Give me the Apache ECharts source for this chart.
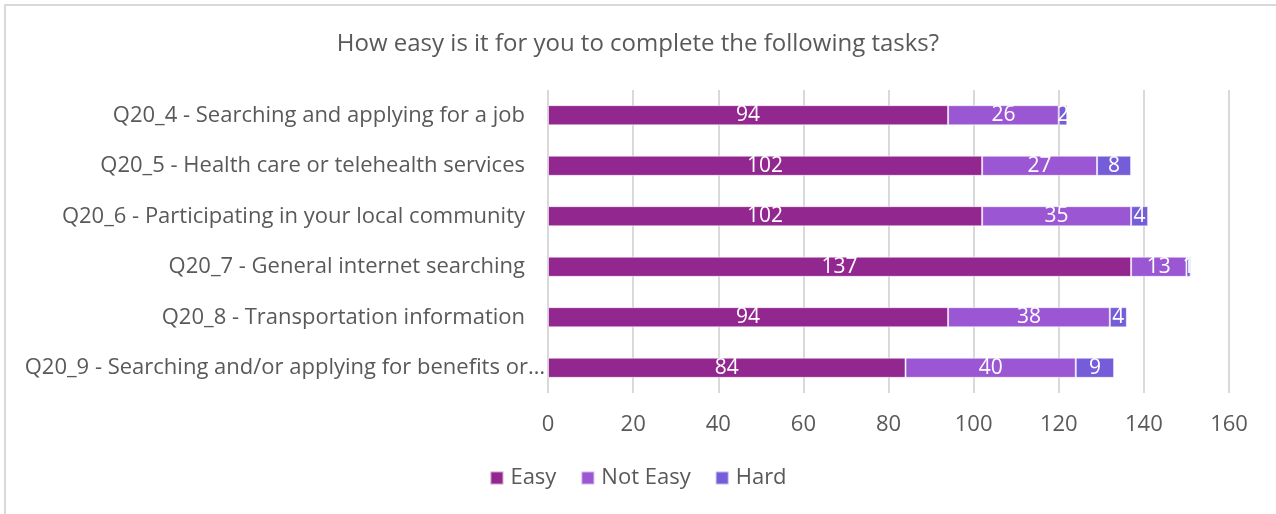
<!DOCTYPE html>
<html>
<head>
<meta charset="utf-8">
<script src="https://cdn.jsdelivr.net/npm/echarts@6/dist/echarts.min.js"></script>
<style>
  html, body { margin: 0; padding: 0; background: #fff; }
  #frame {
    position: absolute; left: 4px; top: 4px; width: 1290px; height: 530px;
    border-left: 2px solid #d9d9d9; border-top: 2px solid #d9d9d9;
  }
  #chart { position: absolute; left: 0; top: 0; width: 1276px; height: 514px; }
</style>
</head>
<body>
<div id="frame"></div>
<div id="chart"></div>
<script>
// Survey question rows (top to bottom)
const categories = [
  'Q20_4 - Searching and applying for a job',
  'Q20_5 - Health care or telehealth services',
  'Q20_6 - Participating in your local community',
  'Q20_7 - General internet searching',
  'Q20_8 - Transportation information',
  'Q20_9 - Searching and/or applying for benefits or\u2026'
];
const easy    = [94, 102, 102, 137, 94, 84];
const notEasy = [26, 27, 35, 13, 38, 40];
const hard    = [2, 8, 4, 1, 4, 9];
const xTicks  = [0, 20, 40, 60, 80, 100, 120, 140, 160];

const FONT = '"Open Sans", Roboto, sans-serif';
const TEXT = '#595959';

const chart = echarts.init(document.getElementById('chart'), null, { renderer: 'canvas' });

function seriesOf(name, data, color) {
  return {
    name: name,
    type: 'bar',
    stack: 'total',
    data: data,
    barCategoryGap: '60%',
    itemStyle: { color: color, borderColor: 'rgba(255,255,255,0.55)', borderWidth: 1 },
    label: {
      show: true,
      position: 'inside',
      color: '#fff',
      fontFamily: FONT,
      fontSize: 21
    },
    emphasis: { disabled: true }
  };
}

chart.setOption({
  animation: false,
  title: {
    text: 'How easy is it for you to complete the following tasks?',
    left: 'center',
    top: 27,
    textStyle: { fontFamily: FONT, fontSize: 24, fontWeight: 'normal', color: TEXT }
  },
  legend: {
    bottom: 20,
    left: 'center',
    itemWidth: 13,
    itemHeight: 13,
    itemGap: 24,
    icon: 'rect',
    textStyle: { fontFamily: FONT, fontSize: 22, color: TEXT, padding: [0, 0, 0, 2] },
    data: ['Easy', 'Not Easy', 'Hard']
  },
  grid: { left: 548, right: 47, top: 90, bottom: 121, containLabel: false },
  xAxis: {
    type: 'value',
    min: xTicks[0],
    max: xTicks[xTicks.length - 1],
    interval: 20,
    axisLine: { show: false },
    axisTick: { show: false },
    axisLabel: { fontFamily: FONT, fontSize: 22, color: TEXT, margin: 21 },
    splitLine: { show: true, lineStyle: { color: '#d9d9d9', width: 2 } }
  },
  yAxis: {
    type: 'category',
    inverse: true,
    data: categories,
    axisLine: { show: false },
    axisTick: { show: false },
    axisLabel: {
      fontFamily: FONT, fontSize: 22, color: TEXT, margin: 3,
      // truncated names run right up to the bars; full names keep a gap
      formatter: function (v) {
        return v.endsWith('\u2026') ? v : v + '{gap|}';
      },
      rich: { gap: { width: 20 } }
    }
  },
  series: [
    seriesOf('Easy', easy, '#92278f'),
    seriesOf('Not Easy', notEasy, '#9b57d3'),
    seriesOf('Hard', hard, '#755dd9')
  ]
});
</script>
</body>
</html>
